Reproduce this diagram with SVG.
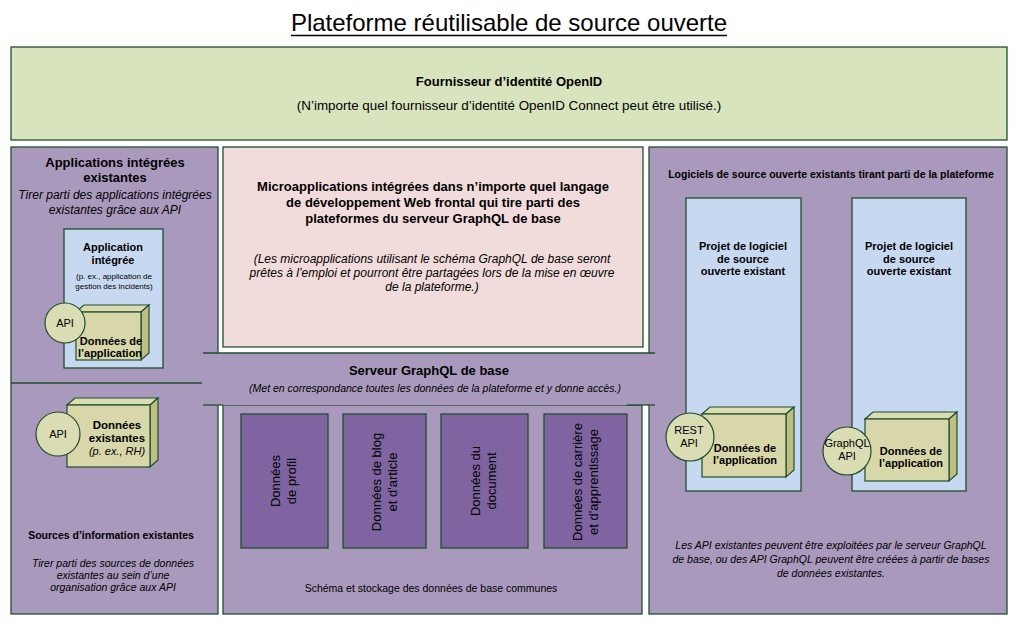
<svg xmlns="http://www.w3.org/2000/svg" width="1018" height="624" viewBox="0 0 1018 624">
<style>
text{font-family:"Liberation Sans",Arial,sans-serif;fill:#000;text-anchor:middle}
.b{font-weight:bold}
.i{font-style:italic}
.col{fill:#a99abd;stroke:#1f4e2c;stroke-width:1.3}
.ln{stroke:#1f4e2c;stroke-width:1.3;fill:none}
.blue{fill:#c6d9f1;stroke:#1f4e2c;stroke-width:1.3}
.dat{fill:#8064a2;stroke:#1f4e2c;stroke-width:1.3}
.cf{fill:#d7d7a9;stroke:#1f4e2c;stroke-width:1.2}
.ct{fill:#dcdcb2;stroke:#1f4e2c;stroke-width:1.2}
.cs{fill:#bfbf83;stroke:#1f4e2c;stroke-width:1.2}
.api{fill:#dadcb3;stroke:#1f4e2c;stroke-width:1.2}
</style>
<rect width="1018" height="624" fill="#fff"/>

<g id="title">
<text x="509" y="31" style="font-size:24px">Plateforme réutilisable de source ouverte</text>
<line x1="291" y1="35.5" x2="727" y2="35.5" stroke="#000" stroke-width="1.5"/>
</g>

<g id="openid">
<rect x="11" y="47" width="996" height="93" fill="#d7e4bd" stroke="#1f4e2c" stroke-width="1.3"/>
<text x="509" y="86" class="b" style="font-size:13px">Fournisseur d’identité OpenID</text>
<text x="509" y="110" style="font-size:13.4px">(N’importe quel fournisseur d’identité OpenID Connect peut être utilisé.)</text>
</g>

<g id="left-column">
<rect x="11" y="147" width="207" height="467" class="col"/>
</g>

<g id="right-column">
<rect x="649" y="147" width="358" height="467" class="col"/>
</g>

<g id="micro-apps">
<rect x="223" y="147" width="420" height="200" fill="#f2dcdb" stroke="#1f4e2c" stroke-width="1.3"/>
<text x="433" y="191" class="b" style="font-size:13px">Microapplications intégrées dans n’importe quel langage</text>
<text x="433" y="207" class="b" style="font-size:13px">de développement Web frontal qui tire parti des</text>
<text x="433" y="223" class="b" style="font-size:13px">plateformes du serveur GraphQL de base</text>
<text x="432" y="263" class="i" style="font-size:12px">(Les microapplications utilisant le schéma GraphQL de base seront</text>
<text x="432" y="277" class="i" style="font-size:12px">prêtes à l’emploi et pourront être partagées lors de la mise en œuvre</text>
<text x="432" y="291" class="i" style="font-size:12px">de la plateforme.)</text>
</g>

<g id="core-storage">
<rect x="223" y="405" width="419" height="209" class="col"/>
<text x="431" y="592" style="font-size:10.5px">Schéma et stockage des données de base communes</text>
</g>

<g id="graphql-server">
<rect x="203" y="353" width="452" height="52" fill="#a99abd"/>
<line x1="203" y1="353" x2="655" y2="353" class="ln"/>
<line x1="203" y1="405" x2="223" y2="405" class="ln"/>
<line x1="627" y1="405" x2="655" y2="405" class="ln"/>
<text x="429" y="375" class="b" style="font-size:13px">Serveur GraphQL de base</text>
<text x="435" y="392" class="i" style="font-size:10.5px">(Met en correspondance toutes les données de la plateforme et y donne accès.)</text>
</g>

<g id="existing-apps">
<line x1="11" y1="383" x2="202" y2="383" class="ln"/>
<text x="115" y="167" class="b" style="font-size:13px">Applications intégrées</text>
<text x="115" y="182" class="b" style="font-size:13px">existantes</text>
<text x="115" y="199" class="i" style="font-size:12px">Tirer parti des applications intégrées</text>
<text x="115" y="214" class="i" style="font-size:12px">existantes grâce aux API</text>
</g>

<g id="integrated-app">
<rect x="64" y="229" width="99" height="139" class="blue"/>
<text x="113" y="251" class="b" style="font-size:11px">Application</text>
<text x="113" y="264" class="b" style="font-size:11px">intégrée</text>
<text x="114" y="279" style="font-size:8px">(p. ex., application de</text>
<text x="114" y="289" style="font-size:8px">gestion des incidents)</text>
</g>

<g id="app-data-1">
<polygon points="76,312 84,305 149,305 141,312" class="ct"/>
<polygon points="141,312 149,305 149,353 141,360" class="cs"/>
<rect x="76" y="312" width="65" height="48" class="cf"/>
<text x="111" y="345" class="b" style="font-size:11px">Données de</text>
<text x="110" y="357" class="b" style="font-size:11px">l’application</text>
</g>

<g id="api-1">
<circle cx="65" cy="323" r="20" class="api"/>
<text x="65" y="327" style="font-size:11px">API</text>
</g>

<g id="existing-sources">
<text x="111" y="539" class="b" style="font-size:10.5px">Sources d’information existantes</text>
<text x="113" y="567" class="i" style="font-size:10.5px">Tirer parti des sources de données</text>
<text x="113" y="579" class="i" style="font-size:10.5px">existantes au sein d’une</text>
<text x="113" y="591" class="i" style="font-size:10.5px">organisation grâce aux API</text>
</g>

<g id="existing-data">
<polygon points="67,405 75,398 158,398 150,405" class="ct"/>
<polygon points="150,405 158,398 158,460 150,467" class="cs"/>
<rect x="67" y="405" width="83" height="62" class="cf"/>
<text x="117" y="429" class="b" style="font-size:11.5px">Données</text>
<text x="117" y="441.5" class="b" style="font-size:11.5px">existantes</text>
<text x="117" y="455" class="i" style="font-size:11px">(p. ex., RH)</text>
</g>

<g id="api-2">
<circle cx="58" cy="434" r="22" class="api"/>
<text x="58" y="438" style="font-size:11px">API</text>
</g>

<g id="data-profile">
<rect x="241" y="414" width="87" height="134" class="dat"/>
<text transform="translate(280,481) rotate(-90)" style="font-size:13px">Données</text>
<text transform="translate(296,481) rotate(-90)" style="font-size:13px">de profil</text>
</g>

<g id="data-blog">
<rect x="343" y="414" width="83" height="134" class="dat"/>
<text transform="translate(381,482) rotate(-90)" style="font-size:13px">Données de blog</text>
<text transform="translate(397,482) rotate(-90)" style="font-size:13px">et d'article</text>
</g>

<g id="data-document">
<rect x="441" y="414" width="87" height="134" class="dat"/>
<text transform="translate(480,481) rotate(-90)" style="font-size:13px">Données du</text>
<text transform="translate(496,481) rotate(-90)" style="font-size:13px">document</text>
</g>

<g id="data-career">
<rect x="544" y="414" width="83" height="134" class="dat"/>
<text transform="translate(582,482) rotate(-90)" style="font-size:13px">Données de carrière</text>
<text transform="translate(598,482) rotate(-90)" style="font-size:13px">et d'apprentissage</text>
</g>

<g id="oss-heading">
<text x="831" y="178" class="b" style="font-size:10.5px">Logiciels de source ouverte existants tirant parti de la plateforme</text>
<text x="831" y="549" class="i" style="font-size:10.5px">Les API existantes peuvent être exploitées par le serveur GraphQL</text>
<text x="831" y="563" class="i" style="font-size:10.5px">de base, ou des API GraphQL peuvent être créées à partir de bases</text>
<text x="831" y="577" class="i" style="font-size:10.5px">de données existantes.</text>
</g>

<g id="oss-project-1">
<rect x="686" y="198" width="115" height="293" class="blue"/>
<text x="743" y="250" class="b" style="font-size:11px">Projet de logiciel</text>
<text x="743" y="262.5" class="b" style="font-size:11px">de source</text>
<text x="743" y="275" class="b" style="font-size:11px">ouverte existant</text>
</g>

<g id="app-data-rest">
<polygon points="702,414 710,407 794,407 786,414" class="ct"/>
<polygon points="786,414 794,407 794,470 786,477" class="cs"/>
<rect x="702" y="414" width="84" height="63" class="cf"/>
<text x="745" y="452" class="b" style="font-size:11px">Données de</text>
<text x="745" y="464" class="b" style="font-size:11px">l’application</text>
</g>

<g id="rest-api">
<circle cx="690" cy="437" r="24" class="api"/>
<text x="689" y="434" style="font-size:11px">REST</text>
<text x="689" y="447" style="font-size:11px">API</text>
</g>

<g id="oss-project-2">
<rect x="852" y="198" width="114" height="293" class="blue"/>
<text x="909" y="250" class="b" style="font-size:11px">Projet de logiciel</text>
<text x="909" y="262.5" class="b" style="font-size:11px">de source</text>
<text x="909" y="275" class="b" style="font-size:11px">ouverte existant</text>
</g>

<g id="app-data-graphql">
<polygon points="865,419 873,412 957,412 949,419" class="ct"/>
<polygon points="949,419 957,412 957,474 949,481" class="cs"/>
<rect x="865" y="419" width="84" height="62" class="cf"/>
<text x="911" y="455" class="b" style="font-size:11px">Données de</text>
<text x="911" y="467" class="b" style="font-size:11px">l’application</text>
</g>

<g id="graphql-api">
<circle cx="847" cy="451" r="24" class="api"/>
<text x="847" y="447" style="font-size:11px">GraphQL</text>
<text x="847" y="460" style="font-size:11px">API</text>
</g>

<g id="connectors"></g>
</svg>
